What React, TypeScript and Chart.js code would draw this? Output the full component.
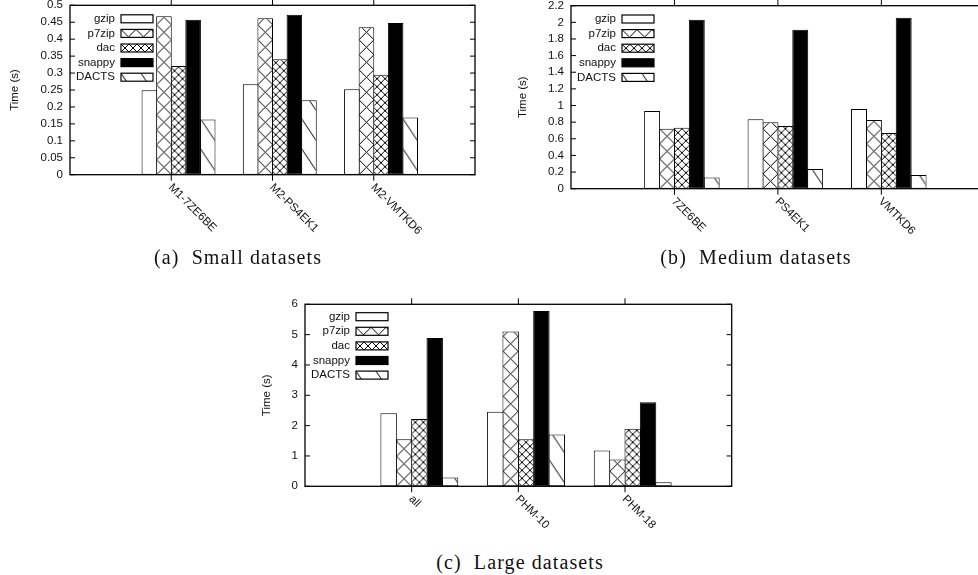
import React, { useEffect, useRef } from 'react';
import { Chart, registerables } from 'chart.js';

Chart.register(...registerables);

// ---------------- data ----------------
const seriesNames = ['gzip', 'p7zip', 'dac', 'snappy', 'DACTS'];

const smallCategories = ['M1-7ZE6BE', 'M2-PS4EK1', 'M2-VMTKD6'];
const smallGzip = [0.249, 0.267, 0.252];
const smallP7zip = [0.468, 0.462, 0.435];
const smallDac = [0.321, 0.341, 0.295];
const smallSnappy = [0.457, 0.472, 0.448];
const smallDacts = [0.163, 0.22, 0.169];
const smallYMax = 0.5;
const smallYStep = 0.05;

const mediumCategories = ['7ZE6BE', 'PS4EK1', 'VMTKD6'];
const mediumGzip = [0.934, 0.834, 0.958];
const mediumP7zip = [0.721, 0.798, 0.826];
const mediumDac = [0.733, 0.754, 0.669];
const mediumSnappy = [2.032, 1.912, 2.056];
const mediumDacts = [0.136, 0.236, 0.164];
const mediumYMax = 2.2;
const mediumYStep = 0.2;

const largeCategories = ['all', 'PHM-10', 'PHM-18'];
const largeGzip = [2.41, 2.46, 1.18];
const largeP7zip = [1.55, 5.1, 0.88];
const largeDac = [2.22, 1.55, 1.9];
const largeSnappy = [4.89, 5.78, 2.77];
const largeDacts = [0.29, 1.71, 0.13];
const largeYMax = 6;
const largeYStep = 1;

const yTitle = 'Time (s)';
const captions = ['(a)  Small datasets', '(b)  Medium datasets', '(c)  Large datasets'];

// ---------------- style ----------------
const FONT = '"Liberation Sans", Arial, sans-serif';
const FONT_SIZE = 11.5;
const TEXT = '#111';
const CAT_PCT = 0.864;
const BAR_PCT = 1.07;
const fillKinds = ['empty', 'bigX', 'smallX', 'solid', 'diag'];

let tileCache: Record<string, HTMLCanvasElement> | null = null;
function tiles() {
  if (tileCache) return tileCache;
  const cross = (s: number) => {
    const c = document.createElement('canvas');
    c.width = s; c.height = s;
    const g = c.getContext('2d')!;
    g.fillStyle = '#fff'; g.fillRect(0, 0, s, s);
    g.strokeStyle = '#000'; g.lineWidth = 1;
    g.beginPath();
    for (const o of [-s, 0, s]) {
      g.moveTo(-s, -s + o); g.lineTo(2 * s, 2 * s + o);
      g.moveTo(-s, 2 * s + o); g.lineTo(2 * s, -s + o);
    }
    g.stroke();
    return c;
  };
  const diag = (w: number, h: number) => {
    const c = document.createElement('canvas');
    c.width = w; c.height = h;
    const g = c.getContext('2d')!;
    g.fillStyle = '#fff'; g.fillRect(0, 0, w, h);
    g.strokeStyle = '#000'; g.lineWidth = 1;
    g.beginPath();
    for (const o of [-h, 0, h]) {
      g.moveTo(-w, -h + o); g.lineTo(2 * w, 2 * h + o);
    }
    g.stroke();
    return c;
  };
  tileCache = { bigX: cross(15), smallX: cross(8), diag: diag(20, 30) };
  return tileCache;
}

function patternFill(ctx2d: CanvasRenderingContext2D, kind: string, x: number, y: number) {
  if (kind === 'empty') return '#fff';
  if (kind === 'solid') return '#000';
  const t = tiles()[kind];
  const p = ctx2d.createPattern(t, 'repeat')!;
  p.setTransform(new DOMMatrix().translate(x, y));
  return p;
}

function barFill(kind: string) {
  if (kind === 'empty') return '#fff';
  if (kind === 'solid') return '#000';
  return (c: any) => {
    const chart = c.chart;
    const xs = chart.scales.x;
    const ys = chart.scales.y;
    let x = 0, y = 0;
    if (c.type === 'data' && xs && ys) {
      const px = xs.getPixelForValue(c.dataIndex);
      const unit = xs.getPixelForValue(1) - xs.getPixelForValue(0);
      const chunk = (unit * CAT_PCT) / 6;
      const center = px - (unit * CAT_PCT) / 2 + chunk * (c.datasetIndex + 0.5);
      const t = tiles()[kind];
      x = center - t.width / 2;
      y = ys.getPixelForValue(0);
    }
    return patternFill(chart.ctx, kind, x, y);
  };
}

const fmt = (v: number) => String(Number(v.toFixed(3)));

const gnuplotPlugin = {
  id: 'gnuplotFrame',
  afterDatasetsDraw(chart: any, _args: any, opts: any) {
    const { ctx, chartArea: a, scales } = chart;
    const xs = scales.x, ys = scales.y;
    ctx.save();
    ctx.strokeStyle = '#000';
    ctx.lineWidth = 1.3;
    ctx.strokeRect(a.left, a.top, a.right - a.left, a.bottom - a.top);
    const line = (x1: number, y1: number, x2: number, y2: number) => {
      ctx.beginPath(); ctx.moveTo(x1, y1); ctx.lineTo(x2, y2); ctx.stroke();
    };
    ctx.lineWidth = 1;
    ys.ticks.forEach((t: any) => {
      const y = ys.getPixelForValue(t.value);
      line(a.left, y, a.left + 5, y);
      line(a.right, y, a.right - 5, y);
    });
    ctx.fillStyle = TEXT;
    ctx.font = `${FONT_SIZE}px ${FONT}`;
    (opts.categories as string[]).forEach((label, i) => {
      const x = xs.getPixelForValue(i + 1);
      line(x, a.bottom, x, a.bottom + 6);
      line(x, a.top, x, a.top - 6);
      ctx.save();
      ctx.translate(x - 1, a.bottom + 11);
      ctx.rotate(Math.PI / 4);
      ctx.textAlign = 'left';
      ctx.textBaseline = 'middle';
      ctx.fillText(label, 0, 0);
      ctx.restore();
    });
    // y title
    ctx.save();
    ctx.translate(a.left - opts.titleGap, (a.top + a.bottom) / 2);
    ctx.rotate(-Math.PI / 2);
    ctx.textAlign = 'center';
    ctx.textBaseline = 'middle';
    ctx.fillText(yTitle, 0, 0);
    ctx.restore();
    // legend
    seriesNames.forEach((name, i) => {
      const y = a.top + opts.legendTop + i * 14.6;
      ctx.textAlign = 'right';
      ctx.textBaseline = 'middle';
      ctx.fillStyle = TEXT;
      ctx.fillText(name, a.left + 45, y);
      const bx = a.left + 51, by = y - 4, bw = 32, bh = 8;
      ctx.fillStyle = patternFill(ctx, fillKinds[i], bx, by);
      ctx.fillRect(bx, by, bw, bh);
      ctx.lineWidth = 1.2;
      ctx.strokeRect(bx, by, bw, bh);
    });
    ctx.restore();
  },
};

type Panel = {
  categories: string[];
  values: number[][];
  yMax: number;
  yStep: number;
  canvas: { x: number; y: number; w: number; h: number };
  plot: { l: number; t: number; r: number; b: number };
  titleGap: number;
  legendTop: number;
};

const panels: Panel[] = [
  {
    categories: smallCategories,
    values: [smallGzip, smallP7zip, smallDac, smallSnappy, smallDacts],
    yMax: smallYMax, yStep: smallYStep,
    canvas: { x: 0, y: -20, w: 490, h: 270 },
    plot: { l: 70, t: 5.3, r: 475, b: 174.7 },
    titleGap: 54.7, legendTop: 13.5,
  },
  {
    categories: mediumCategories,
    values: [mediumGzip, mediumP7zip, mediumDac, mediumSnappy, mediumDacts],
    yMax: mediumYMax, yStep: mediumYStep,
    canvas: { x: 490, y: -20, w: 500, h: 270 },
    plot: { l: 571, t: 5.7, r: 984.8, b: 188.7 },
    titleGap: 47.7, legendTop: 13.3,
  },
  {
    categories: largeCategories,
    values: [largeGzip, largeP7zip, largeDac, largeSnappy, largeDacts],
    yMax: largeYMax, yStep: largeYStep,
    canvas: { x: 230, y: 280, w: 520, h: 260 },
    plot: { l: 305, t: 304.3, r: 731.7, b: 486.3 },
    titleGap: 38, legendTop: 12.4,
  },
];

function ChartPanel({ panel }: { panel: Panel }) {
  const ref = useRef<HTMLCanvasElement>(null);
  useEffect(() => {
    const { canvas: c, plot: p } = panel;
    const labels = ['', ...panel.categories, ' '];
    const pad = (arr: number[]) => [null, ...arr, null];
    const yWidth = p.l - c.x;
    const chart = new Chart(ref.current!, {
      type: 'bar',
      data: {
        labels,
        datasets: [
          {
            label: '',
            data: labels.map(() => null),
            backgroundColor: 'transparent',
            borderWidth: 0,
          },
          ...panel.values.map((vals, i) => ({
            label: seriesNames[i],
            data: pad(vals),
            backgroundColor: barFill(fillKinds[i]) as any,
            borderColor: '#000',
            borderWidth: 1,
            borderSkipped: false as any,
          })),
        ],
      } as any,
      options: {
        animation: false,
        responsive: false,
        events: [],
        layout: {
          padding: {
            left: 0,
            top: p.t - c.y,
            right: c.x + c.w - p.r,
            bottom: c.y + c.h - p.b,
          },
        },
        datasets: { bar: { categoryPercentage: CAT_PCT, barPercentage: BAR_PCT } },
        scales: {
          x: { display: false, offset: false, grid: { display: false } },
          y: {
            min: 0,
            max: panel.yMax,
            border: { display: false },
            grid: { display: false, drawTicks: false },
            ticks: {
              stepSize: panel.yStep,
              autoSkip: false,
              maxTicksLimit: 100,
              padding: 7,
              color: TEXT,
              font: { family: FONT, size: FONT_SIZE },
              callback: (v: any) => fmt(Number(v)),
            },
            afterFit: (s: any) => { s.width = yWidth; },
          },
        },
        plugins: {
          legend: { display: false },
          tooltip: { enabled: false },
          gnuplotFrame: { categories: panel.categories, titleGap: panel.titleGap, legendTop: panel.legendTop },
        } as any,
      },
      plugins: [gnuplotPlugin],
    });
    return () => chart.destroy();
  }, [panel]);
  const { canvas: c } = panel;
  return (
    <canvas
      ref={ref}
      width={c.w}
      height={c.h}
      style={{ position: 'absolute', left: c.x, top: c.y, width: c.w, height: c.h }}
    />
  );
}

const captionPos = [
  { cx: 238, y: 257 },
  { cx: 756, y: 257 },
  { cx: 520, y: 562 },
];

export default function App() {
  return (
    <div
      style={{
        position: 'absolute', left: 0, top: 0, width: 978, height: 575,
        overflow: 'hidden', background: '#fff',
      }}
    >
      {panels.map((p, i) => <ChartPanel key={i} panel={p} />)}
      {captions.map((text, i) => (
        <div
          key={'c' + i}
          style={{
            position: 'absolute',
            left: captionPos[i].cx - 150,
            width: 300,
            top: captionPos[i].y - 12,
            height: 24,
            lineHeight: '24px',
            textAlign: 'center',
            whiteSpace: 'pre',
            fontFamily: '"Liberation Serif", "Times New Roman", serif',
            fontSize: 20,
            letterSpacing: 1.1,
            color: '#111',
          }}
        >
          {text}
        </div>
      ))}
    </div>
  );
}
